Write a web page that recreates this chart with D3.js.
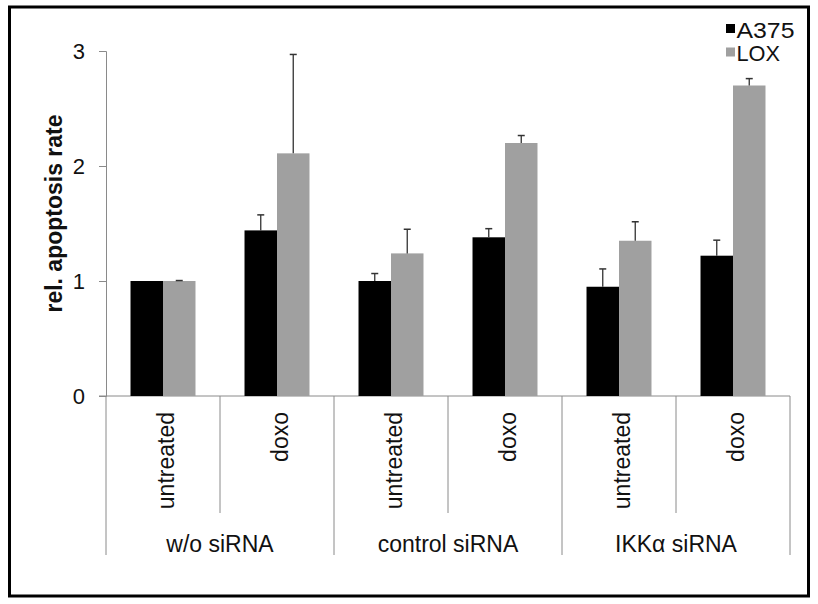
<!DOCTYPE html>
<html>
<head>
<meta charset="utf-8">
<title>rel. apoptosis rate</title>
<style>
    body { margin: 0; background: #fff; }
    text { font-family: "Liberation Sans", Arial, sans-serif; fill: #111; }
</style>
<script src="https://d3js.org/d3.v7.min.js"></script>
</head>
<body>
<div id="chart"></div>
<script>
    // categories: treatment inside each siRNA group
    var treatments = ["untreated", "doxo", "untreated", "doxo", "untreated", "doxo"];
    var groups = ["w/o siRNA", "control siRNA", "IKK\u03b1 siRNA"];
    var seriesNames = ["A375", "LOX"];

    // values
    var a375 = [1.0, 1.44, 1.0, 1.38, 0.95, 1.22];
    var a375Err = [0, 0.135, 0.065, 0.075, 0.155, 0.135];
    var lox = [1.0, 2.11, 1.24, 2.2, 1.35, 2.7];
    var loxErr = [0.004, 0.86, 0.21, 0.065, 0.165, 0.06];

    var yTicks = [0, 1, 2, 3];
    var colors = ["#000000", "#a0a0a0"];

    drawChart();

    function drawChart() {
        var W = 818, H = 604;
        var svg = d3.select("#chart").append("svg")
            .attr("width", W)
            .attr("height", H);

        // outer frame
        svg.append("rect")
            .attr("x", 9.5).attr("y", 7)
            .attr("width", 799).attr("height", 589)
            .attr("fill", "none")
            .attr("stroke", "#000")
            .attr("stroke-width", 3);

        var plotLeft = 106, plotRight = 790, plotTop = 51, plotBottom = 396;

        var idx = d3.range(treatments.length);
        var x0 = d3.scaleBand()
            .domain(idx)
            .range([plotLeft, plotRight])
            .paddingInner(0.43)
            .paddingOuter(0.215);
        var step = x0.step();

        var x1 = d3.scaleBand()
            .domain(seriesNames)
            .range([0, x0.bandwidth()]);

        var y = d3.scaleLinear()
            .domain([0, 3])
            .range([plotBottom, plotTop]);

        var axisColor = "#8a8a8a";

        // y axis
        var yAxis = svg.append("g")
            .attr("transform", "translate(" + plotLeft + ",0)")
            .call(d3.axisLeft(y).tickValues(yTicks).tickSize(7).tickPadding(14).tickFormat(d3.format("d")));
        yAxis.select(".domain").attr("stroke", axisColor);
        yAxis.selectAll(".tick line").attr("stroke", axisColor);
        yAxis.selectAll(".tick text")
            .attr("font-size", 22)
            .attr("font-family", "Liberation Sans, Arial, sans-serif")
            .attr("fill", "#111");

        // x axis baseline
        svg.append("line")
            .attr("x1", plotLeft - 7).attr("x2", plotRight)
            .attr("y1", y(0)).attr("y2", y(0))
            .attr("stroke", axisColor);

        // separators between categories
        d3.range(treatments.length + 1).forEach(function (k) {
            var xx = plotLeft + k * step;
            svg.append("line")
                .attr("x1", xx).attr("x2", xx)
                .attr("y1", y(0)).attr("y2", k % 2 == 0 ? 555 : 513)
                .attr("stroke", axisColor);
        });

        // bars
        var series = [
            { name: "A375", values: a375, err: a375Err },
            { name: "LOX", values: lox, err: loxErr }
        ];

        series.forEach(function (s, si) {
            var g = svg.append("g");
            g.selectAll("rect")
                .data(idx)
                .enter().append("rect")
                .attr("x", function (i) { return x0(i) + x1(s.name); })
                .attr("y", function (i) { return y(s.values[i]); })
                .attr("width", x1.bandwidth())
                .attr("height", function (i) { return y(0) - y(s.values[i]); })
                .attr("fill", colors[si]);

            // error bars (upper only)
            var cx = function (i) { return x0(i) + x1(s.name) + x1.bandwidth() / 2; };
            var e = g.selectAll(".err")
                .data(idx.filter(function (i) { return s.err[i] > 0; }))
                .enter().append("g");
            e.append("line")
                .attr("x1", cx).attr("x2", cx)
                .attr("y1", function (i) { return y(s.values[i]); })
                .attr("y2", function (i) { return y(s.values[i] + s.err[i]); })
                .attr("stroke", "#333")
                .attr("stroke-width", 1.3);
            e.append("line")
                .attr("x1", function (i) { return cx(i) - 3.5; })
                .attr("x2", function (i) { return cx(i) + 3.5; })
                .attr("y1", function (i) { return y(s.values[i] + s.err[i]); })
                .attr("y2", function (i) { return y(s.values[i] + s.err[i]); })
                .attr("stroke", "#333")
                .attr("stroke-width", 1.5);
        });

        // treatment labels, rotated
        svg.selectAll(".treat")
            .data(idx)
            .enter().append("text")
            .attr("transform", function (i) {
                return "translate(" + (x0(i) + x0.bandwidth() / 2 + 10.5) + ",412) rotate(-90)";
            })
            .attr("text-anchor", "end")
            .attr("font-size", 23)
            .text(function (i) { return treatments[i]; });

        // group labels
        svg.selectAll(".grp")
            .data(groups)
            .enter().append("text")
            .attr("x", function (d, gi) { return plotLeft + (gi * 2 + 1) * step; })
            .attr("y", 552)
            .attr("text-anchor", "middle")
            .attr("font-size", 23)
            .text(function (d) { return d; });

        // y title
        svg.append("text")
            .attr("transform", "translate(61.5," + ((plotTop + plotBottom) / 2 - 10) + ") rotate(-90)")
            .attr("text-anchor", "middle")
            .attr("font-size", 23)
            .attr("font-weight", "bold")
            .text("rel. apoptosis rate");

        // legend
        var lg = svg.append("g").attr("transform", "translate(726,24)");
        seriesNames.forEach(function (n, si) {
            lg.append("rect")
                .attr("x", 0).attr("y", si * 23.5)
                .attr("width", 9).attr("height", 9)
                .attr("fill", colors[si]);
            lg.append("text")
                .attr("x", 10.5).attr("y", si * 23.5 + 13.5)
                .attr("font-size", 22)
                .attr("textLength", n.length * 14.5)
                .attr("lengthAdjust", "spacingAndGlyphs")
                .text(n);
        });
    }
</script>
</body>
</html>
